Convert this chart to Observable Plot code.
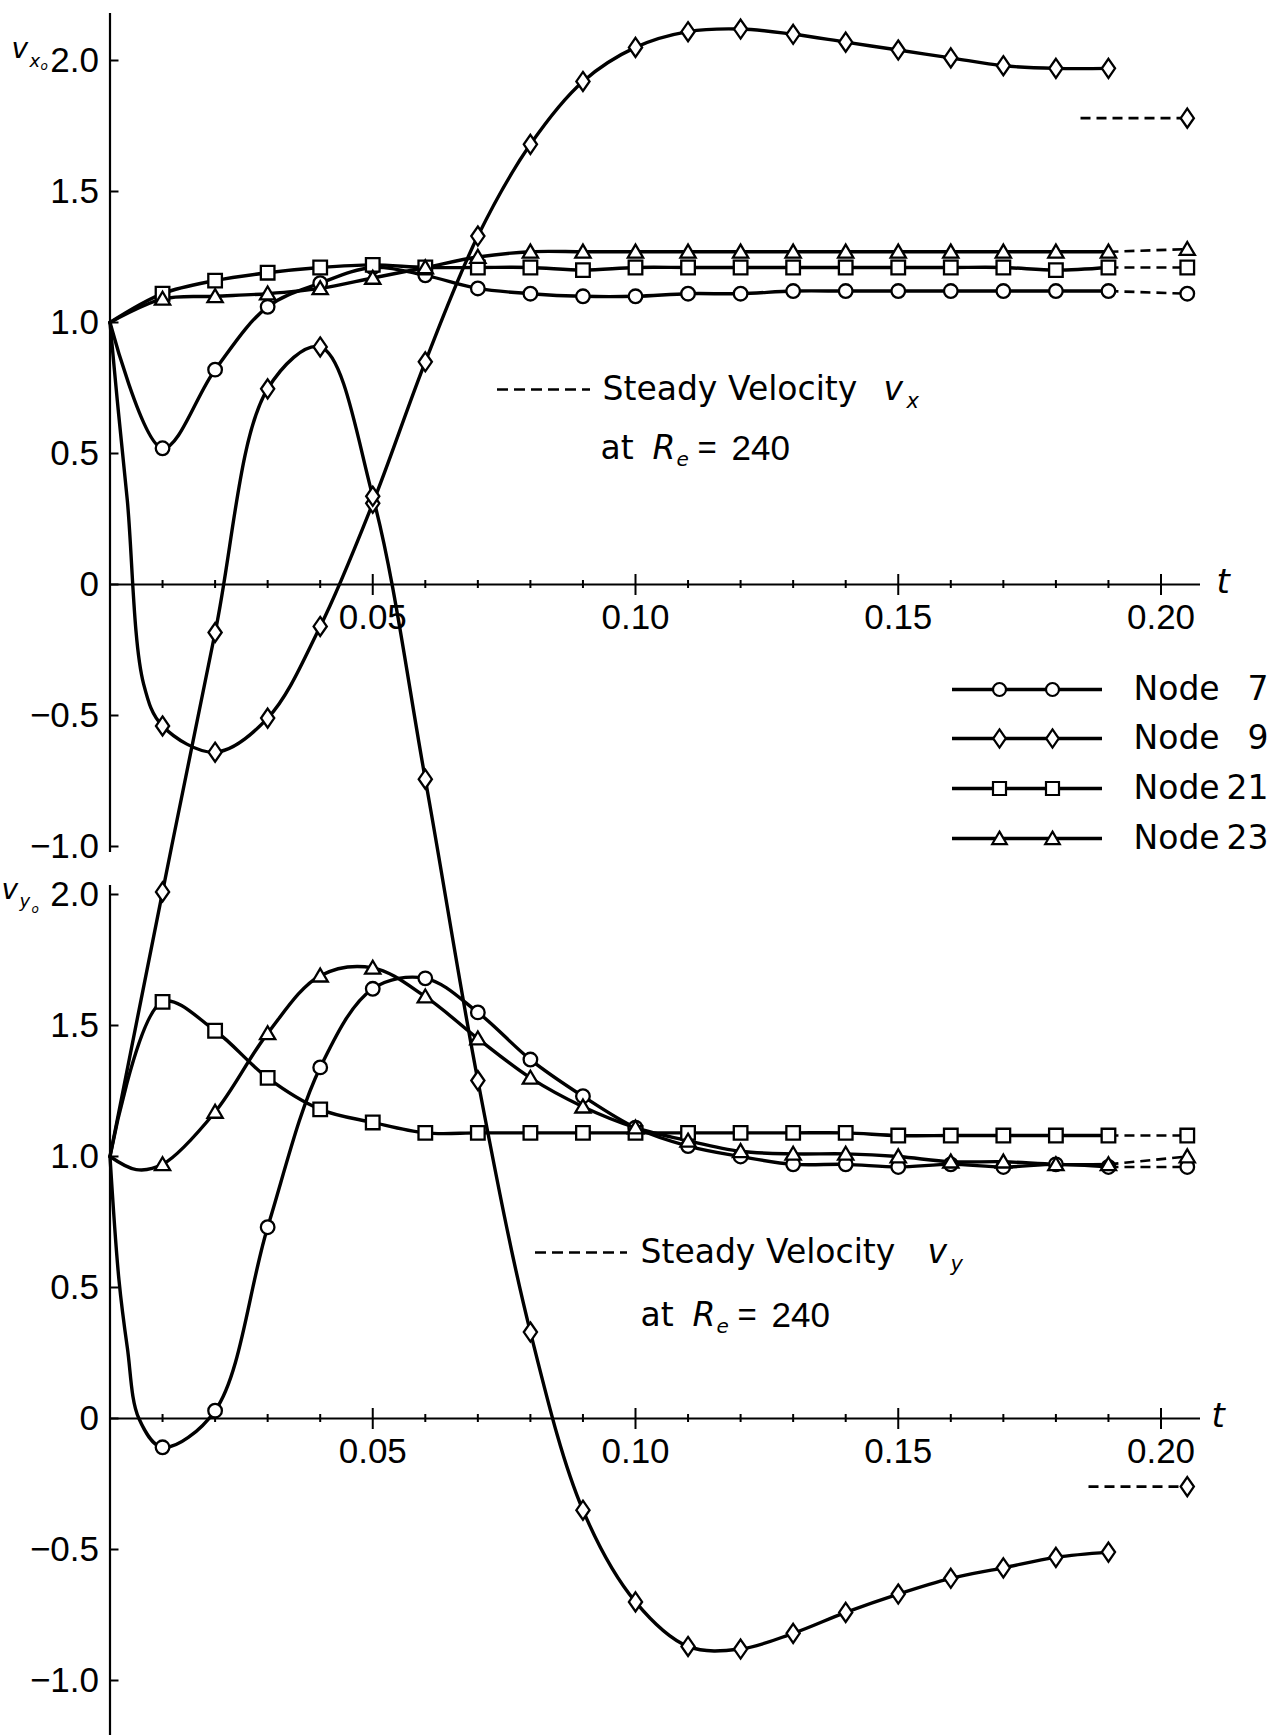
<!DOCTYPE html>
<html>
<head>
<meta charset="utf-8">
<script src="https://cdn.jsdelivr.net/npm/d3@7"></script>
<script src="https://cdn.jsdelivr.net/npm/@observablehq/plot@0.6"></script>
<style>
html, body { margin: 0; padding: 0; background: #fff; overflow: hidden; }
#chart svg { display: block; }
</style>
</head>
<body>
<div id="chart"></div>
<script>
// ---------------- data ----------------
const times = [0, 0.01, 0.02, 0.03, 0.04, 0.05, 0.06, 0.07, 0.08, 0.09, 0.10,
               0.11, 0.12, 0.13, 0.14, 0.15, 0.16, 0.17, 0.18, 0.19];

// v_x (upper panel)
const vx7  = [1.00, 0.52, 0.82, 1.06, 1.15, 1.21, 1.18, 1.13, 1.11, 1.10, 1.10, 1.11, 1.11, 1.12, 1.12, 1.12, 1.12, 1.12, 1.12, 1.12];
const vx9  = [1.00, -0.54, -0.64, -0.51, -0.16, 0.31, 0.85, 1.33, 1.68, 1.92, 2.05, 2.11, 2.12, 2.10, 2.07, 2.04, 2.01, 1.98, 1.97, 1.97];
const vx21 = [1.00, 1.11, 1.16, 1.19, 1.21, 1.22, 1.21, 1.21, 1.21, 1.20, 1.21, 1.21, 1.21, 1.21, 1.21, 1.21, 1.21, 1.21, 1.20, 1.21];
const vx23 = [1.00, 1.09, 1.10, 1.11, 1.13, 1.17, 1.21, 1.25, 1.27, 1.27, 1.27, 1.27, 1.27, 1.27, 1.27, 1.27, 1.27, 1.27, 1.27, 1.27];
// extra points (no marker) where it bends sharply
const vx9Curve = [[0.0014, 0.70], [0.0033, 0.32], [0.0064, -0.38]];
const steadyVx = {n7: 1.11, n9: 1.78, n21: 1.21, n23: 1.28};

// v_y (lower panel)
const vy7  = [1.00, -0.11, 0.03, 0.73, 1.34, 1.64, 1.68, 1.55, 1.37, 1.23, 1.11, 1.04, 1.00, 0.97, 0.97, 0.96, 0.97, 0.96, 0.97, 0.96];
const vy9  = [1.00, 2.01, 3.00, 3.93, 4.09, 3.52, 2.44, 1.29, 0.33, -0.35, -0.70, -0.87, -0.88, -0.82, -0.74, -0.67, -0.61, -0.57, -0.53, -0.51];
const vy21 = [1.00, 1.59, 1.48, 1.30, 1.18, 1.13, 1.09, 1.09, 1.09, 1.09, 1.09, 1.09, 1.09, 1.09, 1.09, 1.08, 1.08, 1.08, 1.08, 1.08];
const vy23 = [1.00, 0.97, 1.17, 1.47, 1.69, 1.72, 1.61, 1.45, 1.30, 1.19, 1.11, 1.06, 1.02, 1.01, 1.01, 1.00, 0.98, 0.98, 0.97, 0.97];
const vy7Curve  = [[0.0017, 0.53], [0.0033, 0.27], [0.0055, 0.0]];
const vy23Curve = [[0.005, 0.95]];
const steadyVy = {n7: 0.96, n9: -0.26, n21: 1.08, n23: 1.00};

const yTickValues = [2.0, 1.5, 1.0, 0.5, 0, -0.5, -1.0];
const xMajorTicks = [0.05, 0.10, 0.15, 0.20];
const xMinorTicks = [0.01, 0.02, 0.03, 0.04, 0.06, 0.07, 0.08, 0.09, 0.11, 0.12, 0.13, 0.14, 0.16, 0.17, 0.18, 0.19];
const legendNodes = ["7", "9", "21", "23"];

// ---------------- layout ----------------
const W = 1273, H = 1735;
const PX_T = 5255, X_ORIGIN = 109.5;     // px per unit t, px of t=0
const PX_V = 262, Y_ZERO = 1418;         // px per unit v, px of v_y = 0
const OFF = 834 / PX_V;                  // upper panel shift in the shared y scale
const T_STEADY = 0.205;
const px2t = px => (px - X_ORIGIN) / PX_T;
const px2v = px => (Y_ZERO - px) / PX_V;

// custom symbols
const rOf = s => Math.sqrt(s / Math.PI);
const symCircle = {draw(c, s) { const r = rOf(s); c.moveTo(r, 0); c.arc(0, 0, r, 0, 2 * Math.PI); c.closePath(); }};
const symSquare = {draw(c, s) { const r = rOf(s); c.moveTo(-r, -r); c.lineTo(r, -r); c.lineTo(r, r); c.lineTo(-r, r); c.closePath(); }};
const symTriangle = {draw(c, s) { const r = rOf(s); c.moveTo(0, -1.05 * r); c.lineTo(1.12 * r, 0.85 * r); c.lineTo(-1.12 * r, 0.85 * r); c.closePath(); }};
const symDiamond = {draw(c, s) { const r = rOf(s); c.moveTo(0, -1.4 * r); c.lineTo(0.97 * r, 0); c.lineTo(0, 1.4 * r); c.lineTo(-0.97 * r, 0); c.closePath(); }};

function buildPoints(vals, extra, off) {
  const pts = times.map((t, i) => ({t, y: vals[i] + off, marker: i > 0}));
  (extra || []).forEach(([t, v]) => pts.push({t, y: v + off, marker: false}));
  return pts.sort((a, b) => a.t - b.t);
}

const series = [
  {vals: vx7,  extra: null,      off: OFF, sym: symCircle,   steady: steadyVx.n7,  from: 0.19,   fromSteady: false},
  {vals: vx9,  extra: vx9Curve,  off: OFF, sym: symDiamond,  steady: steadyVx.n9,  from: px2t(1080), fromSteady: true},
  {vals: vx21, extra: null,      off: OFF, sym: symSquare,   steady: steadyVx.n21, from: 0.19,   fromSteady: false},
  {vals: vx23, extra: null,      off: OFF, sym: symTriangle, steady: steadyVx.n23, from: 0.19,   fromSteady: false},
  {vals: vy7,  extra: vy7Curve,  off: 0,   sym: symCircle,   steady: steadyVy.n7,  from: 0.19,   fromSteady: false},
  {vals: vy9,  extra: null,      off: 0,   sym: symDiamond,  steady: steadyVy.n9,  from: px2t(1088), fromSteady: true},
  {vals: vy21, extra: null,      off: 0,   sym: symSquare,   steady: steadyVy.n21, from: 0.19,   fromSteady: false},
  {vals: vy23, extra: vy23Curve, off: 0,   sym: symTriangle, steady: steadyVy.n23, from: 0.19,   fromSteady: false}
];

const TICK_FONT = "'Liberation Sans', Arial, sans-serif";
const TEXT_FONT = "'DejaVu Sans', sans-serif";
const marks = [];

// ---------------- axes ----------------
[OFF, 0].forEach(off => {
  marks.push(Plot.ruleY([off], {x1: 0, x2: px2t(1200), stroke: "black", strokeWidth: 2.2}));
  marks.push(Plot.ruleX(xMinorTicks, {x: d => d, y1: off - 4 / PX_V, y2: off + 4 / PX_V, stroke: "black", strokeWidth: 2}));
  marks.push(Plot.ruleX(xMajorTicks, {x: d => d, y1: off - 11 / PX_V, y2: off + 10 / PX_V, stroke: "black", strokeWidth: 2}));
  marks.push(Plot.text(xMajorTicks, {x: d => d, y: off, dy: 33, text: d => d.toFixed(2),
    fontFamily: TICK_FONT, fontSize: 35, fill: "black"}));
  marks.push(Plot.ruleY(yTickValues, {y: d => d + off, x1: 0, x2: 9 / PX_T, stroke: "black", strokeWidth: 2}));
  marks.push(Plot.text(yTickValues, {x: 0, y: d => d + off, dx: -11, textAnchor: "end",
    text: d => d === 0 ? "0" : (d < 0 ? "\u2212" : "") + Math.abs(d).toFixed(1),
    fontFamily: TICK_FONT, fontSize: 35, fill: "black"}));
  marks.push(Plot.text(["t"], {x: px2t(off ? 1216 : 1211), y: off + 2 / PX_V, text: d => d, textAnchor: "start",
    fontFamily: TEXT_FONT, fontStyle: "italic", fontSize: 34, fill: "black"}));
});
// vertical axes (upper and lower panel)
marks.push(Plot.ruleX([0], {y1: px2v(852), y2: px2v(13), stroke: "black", strokeWidth: 2.2}));
marks.push(Plot.ruleX([0], {y1: px2v(H + 10), y2: px2v(885), stroke: "black", strokeWidth: 2.2}));

// axis labels v_x0 and v_y0
const axisLab = [
  {t: "v", x: 11, y: 49, size: 28},  {t: "x", x: 29, y: 61, size: 18}, {t: "o", x: 40, y: 66, size: 12},
  {t: "v", x: 1, y: 890, size: 28},  {t: "y", x: 19, y: 901, size: 18}, {t: "o", x: 31, y: 909, size: 12}
];
axisLab.forEach(a => marks.push(Plot.text([a.t], {x: px2t(a.x), y: px2v(a.y), text: d => d, textAnchor: "start",
  fontFamily: TEXT_FONT, fontStyle: "italic", fontSize: a.size, fill: "black"})));

// ---------------- curves ----------------
series.forEach(s => {
  marks.push(Plot.line(buildPoints(s.vals, s.extra, s.off), {x: "t", y: "y", curve: "catmull-rom",
    stroke: "black", strokeWidth: 3.4}));
});
// steady-state dashed segments
series.forEach(s => {
  const y1 = s.fromSteady ? s.steady + s.off : s.vals[s.vals.length - 1] + s.off;
  marks.push(Plot.link([s], {x1: d => d.from, y1: () => y1, x2: T_STEADY, y2: d => d.steady + d.off,
    stroke: "black", strokeWidth: 2.6, strokeDasharray: "10,6"}));
});
// markers
series.forEach(s => {
  const pts = buildPoints(s.vals, null, s.off).filter(d => d.marker);
  pts.push({t: T_STEADY, y: s.steady + s.off});
  marks.push(Plot.dot(pts, {x: "t", y: "y", symbol: s.sym, r: 6.8, fill: "white", stroke: "black", strokeWidth: 2.3}));
});

// ---------------- annotations ----------------
function annotation(dashL, dashR, yc, textX, vX, subX, sub, y2c, atX) {
  marks.push(Plot.ruleY([px2v(yc)], {x1: px2t(dashL), x2: px2t(dashR), stroke: "black", strokeWidth: 2.6, strokeDasharray: "11,6"}));
  marks.push(Plot.text(["Steady Velocity"], {x: px2t(textX), y: px2v(yc), text: d => d, textAnchor: "start",
    fontFamily: TEXT_FONT, fontSize: 33, fill: "black"}));
  marks.push(Plot.text(["v"], {x: px2t(vX), y: px2v(yc), text: d => d, textAnchor: "start",
    fontFamily: TEXT_FONT, fontStyle: "italic", fontSize: 33, fill: "black"}));
  marks.push(Plot.text([sub], {x: px2t(subX), y: px2v(yc + 12), text: d => d, textAnchor: "start",
    fontFamily: TEXT_FONT, fontStyle: "italic", fontSize: 21, fill: "black"}));
  marks.push(Plot.text(["at"], {x: px2t(atX), y: px2v(y2c), text: d => d, textAnchor: "start",
    fontFamily: TEXT_FONT, fontSize: 33, fill: "black"}));
  marks.push(Plot.text(["R"], {x: px2t(atX + 52), y: px2v(y2c), text: d => d, textAnchor: "start",
    fontFamily: TEXT_FONT, fontStyle: "italic", fontSize: 33, fill: "black"}));
  marks.push(Plot.text(["e"], {x: px2t(atX + 76), y: px2v(y2c + 11), text: d => d, textAnchor: "start",
    fontFamily: TEXT_FONT, fontStyle: "italic", fontSize: 20, fill: "black"}));
  marks.push(Plot.text(["="], {x: px2t(atX + 97), y: px2v(y2c), text: d => d, textAnchor: "start",
    fontFamily: TICK_FONT, fontSize: 33, fill: "black"}));
  marks.push(Plot.text(["240"], {x: px2t(atX + 131), y: px2v(y2c), text: d => d, textAnchor: "start",
    fontFamily: TICK_FONT, fontSize: 35, fill: "black"}));
}
annotation(497, 590, 389, 602, 883, 906, "x", 448, 600);
annotation(535, 627, 1252, 640, 927, 950, "y", 1315, 640);

// ---------------- legend ----------------
const legSyms = [symCircle, symDiamond, symSquare, symTriangle];
const legRows = [689, 738, 788, 838];
legendNodes.forEach((n, i) => {
  const yv = px2v(legRows[i]);
  marks.push(Plot.ruleY([yv], {x1: px2t(952), x2: px2t(1102), stroke: "black", strokeWidth: 3.4}));
  marks.push(Plot.dot([px2t(999), px2t(1052)], {x: d => d, y: () => yv, symbol: legSyms[i], r: 6.5,
    fill: "white", stroke: "black", strokeWidth: 2.2}));
  marks.push(Plot.text(["Node"], {x: px2t(1133), y: yv, text: d => d, textAnchor: "start",
    fontFamily: TEXT_FONT, fontSize: 33, fill: "black"}));
  marks.push(Plot.text([n], {x: px2t(1268), y: yv, text: d => d, textAnchor: "end",
    fontFamily: TEXT_FONT, fontSize: 33, fill: "black"}));
});

const chart = Plot.plot({
  width: W, height: H,
  marginTop: 0, marginRight: 0, marginBottom: 0, marginLeft: 0,
  x: {domain: [px2t(0), px2t(W)], axis: null},
  y: {domain: [px2v(H), px2v(0)], axis: null},
  marks
});
document.getElementById("chart").appendChild(chart);
</script>
</body>
</html>
